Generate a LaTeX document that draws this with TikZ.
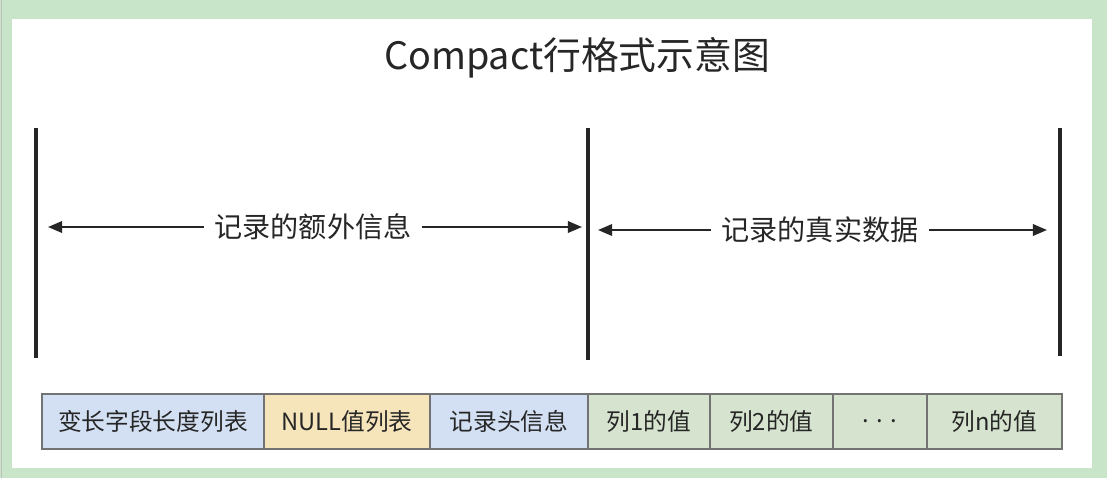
\documentclass[tikz,border=0pt]{standalone}
\usepackage{fontspec}
\setmainfont{Noto Sans CJK SC}
\usetikzlibrary{arrows.meta,positioning}
\definecolor{framegreen}{RGB}{201,229,201}
\definecolor{varblue}{RGB}{211,224,243}
\definecolor{nullorange}{RGB}{246,228,186}
\definecolor{colgreen}{RGB}{214,228,207}
\definecolor{ink}{RGB}{38,38,38}
\tikzset{
  field/.style={draw=black!55, line width=0.8pt, outer sep=0pt, inner sep=0pt,
    minimum height=1.1cm, text=ink, font=\fontsize{13.5}{15}\selectfont},
  bar/.style={line width=2.2pt, ink},
  arr/.style={-{Triangle[length=8pt,width=6.5pt]}, line width=1.2pt, ink},
  part/.style={text=ink, inner sep=6pt, font=\fontsize{16}{18}\selectfont}
}
\begin{document}
\begin{tikzpicture}[x=0.02cm,y=-0.02cm]
\useasboundingbox (0,0) rectangle (1107,478);
% frame
\fill[framegreen] (0,0) rectangle (1107,478);
\fill[white] (12,19) rectangle (1092,468);
\draw[black!25, line width=1pt] (1.5,0) -- (1.5,478);
\node[text=ink, font=\fontsize{21.5}{24}\selectfont] (title) at (577,58) {Compact行格式示意图};
% dividers
\coordinate (t0) at (36,128);   \coordinate (b0) at (36,358);
\coordinate (t1) at (588,128);  \coordinate (b1) at (588,360);
\coordinate (t2) at (1060,128); \coordinate (b2) at (1060,356);
\draw[bar] (t0) -- (b0);
\draw[bar] (t1) -- (b1);
\draw[bar] (t2) -- (b2);
% spans
\node[part] (extra) at (313,227) {记录的额外信息};
\coordinate (e0) at (48,227);
\coordinate (e1) at (582,227);
\draw[arr] (extra.west) -- (e0);
\draw[arr] (extra.east) -- (e1);
\node[part] (real) at (820,230) {记录的真实数据};
\coordinate (r0) at (598,230);
\coordinate (r1) at (1047,230);
\draw[arr] (real.west) -- (r0);
\draw[arr] (real.east) -- (r1);
% row layout
\node[field, fill=varblue, minimum width=4.44cm, anchor=west] (varlen) at (42,421.5) {变长字段长度列表};
\node[field, fill=nullorange, minimum width=3.32cm, right=0pt of varlen] (nulls) {NULL值列表};
\node[field, fill=varblue, minimum width=3.16cm, right=0pt of nulls] (header) {记录头信息};
\node[field, fill=colgreen, minimum width=2.44cm, right=0pt of header] (col1) {列1的值};
\node[field, fill=colgreen, minimum width=2.46cm, right=0pt of col1] (col2) {列2的值};
\node[field, fill=colgreen, minimum width=1.88cm, right=0pt of col2] (dots) {. . .};
\node[field, fill=colgreen, minimum width=2.70cm, right=0pt of dots] (coln) {列n的值};
\end{tikzpicture}
\end{document}
